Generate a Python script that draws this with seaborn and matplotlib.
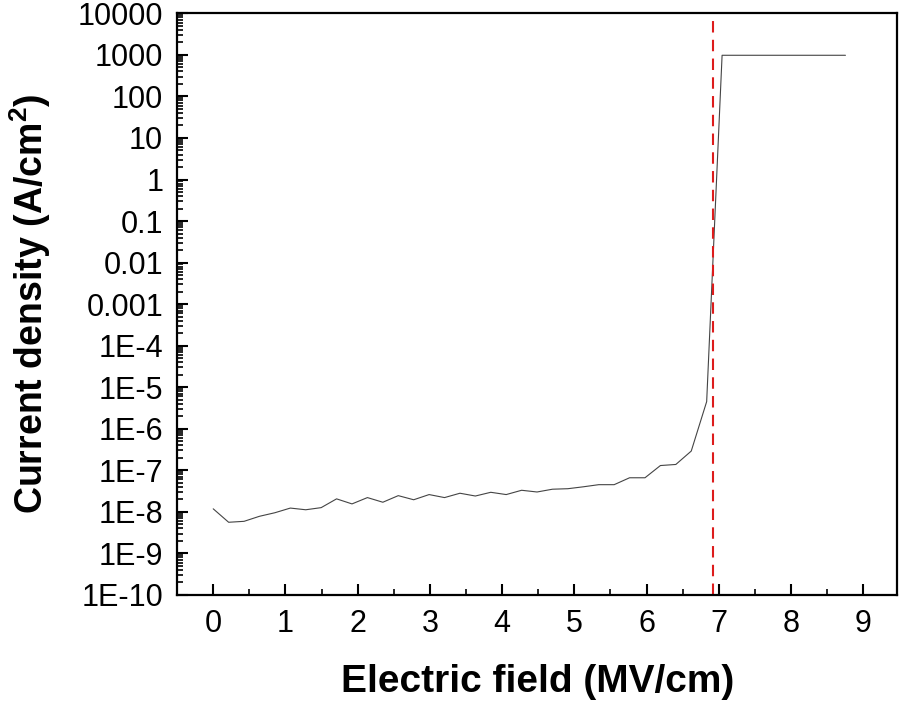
import pandas as pd
import numpy as np
import matplotlib
matplotlib.use('Agg')
import matplotlib.pyplot as plt
import matplotlib.ticker as mticker
import seaborn as sns

# electric field steps (MV/cm) and measured current density (A/cm2)
field = [0.0, 0.2135, 0.427, 0.6405, 0.854, 1.0675, 1.281, 1.4945, 1.708, 1.9215,
         2.135, 2.3485, 2.562, 2.7755, 2.989, 3.2025, 3.416, 3.6295, 3.843, 4.0565,
         4.27, 4.4835, 4.697, 4.9105, 5.124, 5.3375, 5.551, 5.7645, 5.978, 6.1915,
         6.405, 6.6185, 6.832, 7.0455, 7.259, 7.4725, 7.686, 7.8995, 8.113, 8.3265,
         8.54, 8.7535]
current = [1.18e-8, 5.6e-9, 5.9e-9, 7.8e-9, 9.5e-9, 1.23e-8, 1.12e-8, 1.26e-8, 2.05e-8, 1.55e-8,
           2.2e-8, 1.7e-8, 2.45e-8, 1.95e-8, 2.6e-8, 2.2e-8, 2.8e-8, 2.4e-8, 2.95e-8, 2.6e-8,
           3.3e-8, 3.0e-8, 3.5e-8, 3.6e-8, 4.0e-8, 4.5e-8, 4.5e-8, 6.6e-8, 6.6e-8, 1.3e-7,
           1.38e-7, 2.9e-7, 4.5e-6, 980, 980, 980, 980, 980, 980, 980,
           980, 980]
breakdown_field = 6.92

ytick_vals = [1e-10, 1e-9, 1e-8, 1e-7, 1e-6, 1e-5, 1e-4, 1e-3, 1e-2, 1e-1, 1, 10, 100, 1000, 10000]
ytick_labels = ['1E-10', '1E-9', '1E-8', '1E-7', '1E-6', '1E-5', '1E-4', '0.001', '0.01', '0.1',
                '1', '10', '100', '1000', '10000']

sns.set_style('ticks')
plt.rcParams['font.family'] = ['Liberation Sans', 'DejaVu Sans']
plt.rcParams['mathtext.fontset'] = 'custom'
plt.rcParams['mathtext.rm'] = 'Liberation Sans'
plt.rcParams['mathtext.bf'] = 'Liberation Sans:bold'
for key in ['text.color', 'axes.labelcolor', 'xtick.color', 'ytick.color', 'axes.edgecolor']:
    plt.rcParams[key] = 'black'

df = pd.DataFrame({'field': field, 'current': current})

fig = plt.figure(figsize=(8.99, 7.04), dpi=100)
ax = fig.add_axes([0.197, 0.155, 0.801, 0.826])
sns.lineplot(x='field', y='current', data=df, ax=ax, color='#444444', linewidth=0.8)
ax.axvline(breakdown_field, color='#dd1c1c', linewidth=1.5, dashes=(5.5, 3.5))

ax.set_yscale('log')
ax.set_ylim(1e-10, 1e4)
ax.set_xlim(-0.5, 9.47)
ax.yaxis.set_major_locator(mticker.FixedLocator(ytick_vals))
ax.yaxis.set_major_formatter(mticker.FixedFormatter(ytick_labels))
ax.yaxis.set_minor_locator(mticker.LogLocator(base=10, subs=np.arange(2, 10), numticks=30))
ax.yaxis.set_minor_formatter(mticker.NullFormatter())
ax.xaxis.set_major_locator(mticker.MultipleLocator(1))
ax.xaxis.set_minor_locator(mticker.MultipleLocator(0.5))

ax.tick_params(which='major', direction='in', length=8, width=1.5, labelsize=22, pad=10)
ax.tick_params(which='minor', direction='in', length=4.5, width=1.2)
for s in ax.spines.values():
    s.set_linewidth(1.6)

ax.set_xlabel('Electric field (MV/cm)', fontsize=28, fontweight='bold', labelpad=18)
ax.set_ylabel(r'Current density (A/cm$^\mathbf{2}$)', fontsize=27, fontweight='bold', labelpad=18)

fig.savefig('out.png', dpi=100)
